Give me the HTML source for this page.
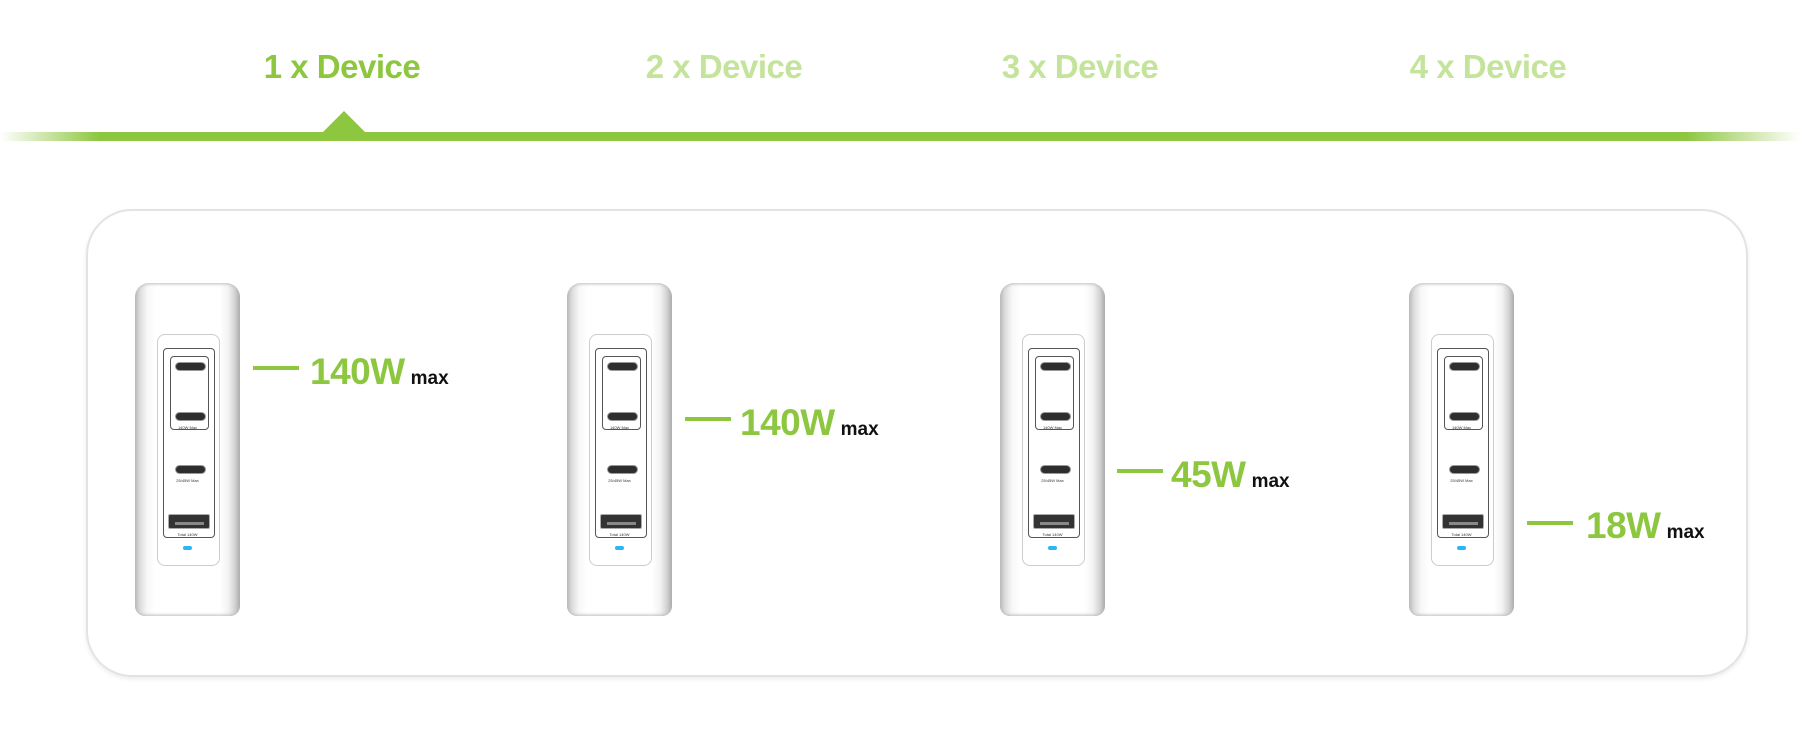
<!DOCTYPE html>
<html><head><meta charset="utf-8"><style>
*{margin:0;padding:0;box-sizing:border-box}
body{width:1800px;height:750px;background:#fff;position:relative;overflow:hidden;font-family:"Liberation Sans",sans-serif}
.t{position:absolute;top:48px;font-weight:bold;font-size:33px;transform:translateX(-50%);white-space:nowrap;letter-spacing:-0.5px}
.bar{position:absolute;left:0;top:132px;width:1800px;height:9px;background:linear-gradient(90deg,rgba(141,198,63,0) 0px,#8dc63f 100px,#8dc63f 1685px,rgba(141,198,63,0) 1800px)}
.tri{position:absolute;left:322px;top:111px;width:0;height:0;border-left:22px solid transparent;border-right:22px solid transparent;border-bottom:22px solid #8dc63f}
.panel{position:absolute;left:86px;top:209px;width:1662px;height:468px;border:2px solid #e3e3e3;border-radius:46px;box-shadow:0 2px 4px rgba(0,0,0,0.08)}
.ch{position:absolute;top:283px;width:105px;height:333px;border-radius:14px 14px 10px 10px;background:linear-gradient(90deg,#b9b9b9 0,#dcdcdc 5px,#f7f7f7 12px,#fff 20px,#fff 85px,#f3f3f3 93px,#d2d2d2 100px,#aaa 105px);box-shadow:inset 0 3px 3px -2px #bbb,inset 0 -3px 3px -2px #bbb}
.ip{position:absolute;left:22px;top:51px;width:63px;height:232px;border:1.5px solid #ccc;border-radius:8px;background:#fff}
.fr{position:absolute;left:28px;top:65px;width:52px;height:190px;border:1.5px solid #555;border-radius:4px}
.ib{position:absolute;left:35px;top:73px;width:39px;height:74px;border:1.5px solid #555;border-radius:4px}
.c{position:absolute;left:40px;width:31px;height:9px;border-radius:5px;background:#2e2e2e;border:1px solid #999}
.a{position:absolute;left:33px;top:231px;width:42px;height:15px;background:#333;border:1px solid #aaa;border-radius:2px}
.a:after{content:"";position:absolute;left:6px;top:7px;width:29px;height:3px;background:#888}
.led{position:absolute;left:48px;top:263px;width:9px;height:4px;border-radius:2px;background:#29b6f6}
.sl{position:absolute;font-size:4px;color:#333;width:105px;text-align:center;left:0}
.ln{position:absolute;height:4px;background:#8dc63f;width:46px}
.w{position:absolute;font-weight:bold;font-size:37px;color:#8dc63f;white-space:nowrap;line-height:1;letter-spacing:-0.5px}
.w span{font-size:19px;color:#111;margin-left:6px;letter-spacing:0}
</style></head><body>
<div class="t" style="left:342px;color:#8dc63f">1 x Device</div>
<div class="t" style="left:724px;color:#c4e39b">2 x Device</div>
<div class="t" style="left:1080px;color:#c4e39b">3 x Device</div>
<div class="t" style="left:1488px;color:#c4e39b">4 x Device</div>
<div class="bar"></div><div class="tri"></div>
<div class="panel"></div>

<div class="ch" style="left:135px"><div class="ip"></div><div class="fr"></div><div class="ib"></div><div class="c" style="top:79px"></div><div class="c" style="top:129px"></div><div class="sl" style="top:142px">140W Max</div><div class="c" style="top:182px"></div><div class="sl" style="top:195px">25/45W Max</div><div class="a"></div><div class="sl" style="top:249px">Total 140W</div><div class="led"></div></div>
<div class="ch" style="left:567px"><div class="ip"></div><div class="fr"></div><div class="ib"></div><div class="c" style="top:79px"></div><div class="c" style="top:129px"></div><div class="sl" style="top:142px">140W Max</div><div class="c" style="top:182px"></div><div class="sl" style="top:195px">25/45W Max</div><div class="a"></div><div class="sl" style="top:249px">Total 140W</div><div class="led"></div></div>
<div class="ch" style="left:1000px"><div class="ip"></div><div class="fr"></div><div class="ib"></div><div class="c" style="top:79px"></div><div class="c" style="top:129px"></div><div class="sl" style="top:142px">140W Max</div><div class="c" style="top:182px"></div><div class="sl" style="top:195px">25/45W Max</div><div class="a"></div><div class="sl" style="top:249px">Total 140W</div><div class="led"></div></div>
<div class="ch" style="left:1409px"><div class="ip"></div><div class="fr"></div><div class="ib"></div><div class="c" style="top:79px"></div><div class="c" style="top:129px"></div><div class="sl" style="top:142px">140W Max</div><div class="c" style="top:182px"></div><div class="sl" style="top:195px">25/45W Max</div><div class="a"></div><div class="sl" style="top:249px">Total 140W</div><div class="led"></div></div>

<div class="ln" style="left:253px;top:366px"></div><div class="w" style="left:310px;top:353px">140W<span>max</span></div>
<div class="ln" style="left:685px;top:417px"></div><div class="w" style="left:740px;top:404px">140W<span>max</span></div>
<div class="ln" style="left:1117px;top:469px"></div><div class="w" style="left:1171px;top:456px">45W<span>max</span></div>
<div class="ln" style="left:1527px;top:521px"></div><div class="w" style="left:1586px;top:507px">18W<span>max</span></div>
</body></html>
